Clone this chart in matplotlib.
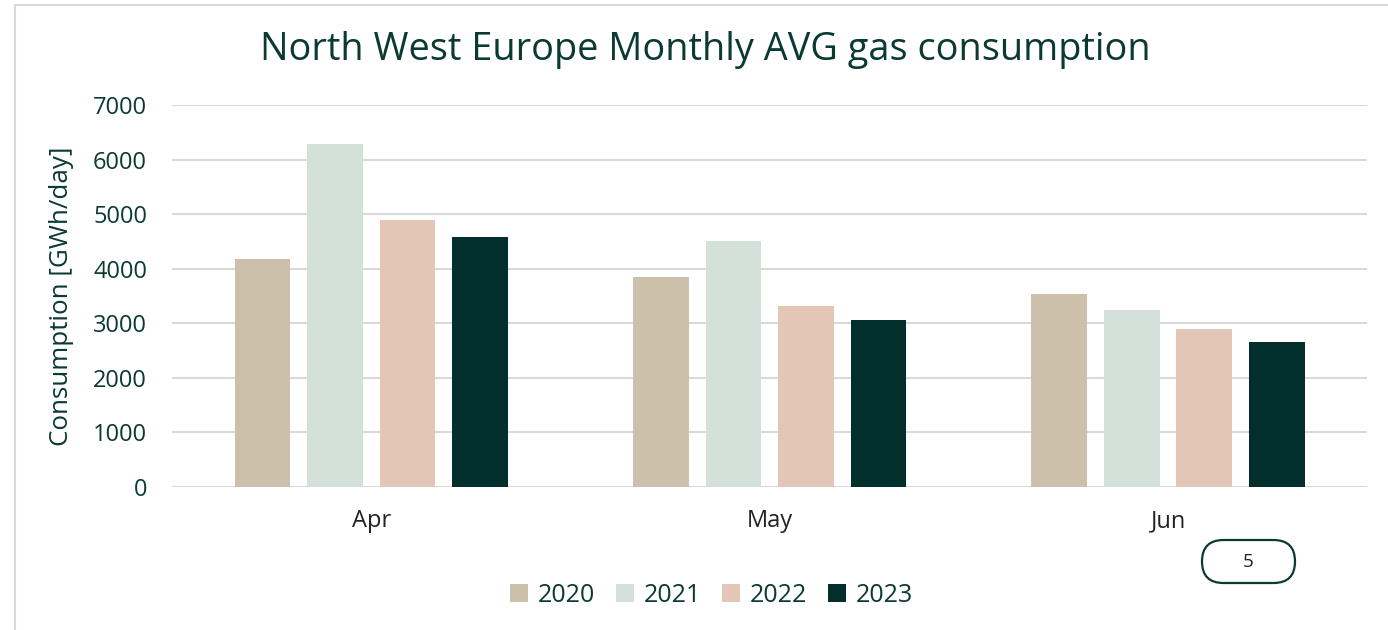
import matplotlib.pyplot as plt
import numpy as np
from matplotlib.patches import FancyBboxPatch

months = ["Apr", "May", "Jun"]
years = ["2020", "2021", "2022", "2023"]
values = {
    "2020": [4180, 3850, 3540],
    "2021": [6290, 4510, 3240],
    "2022": [4890, 3320, 2890],
    "2023": [4580, 3060, 2660],
}
colors = ["#CCC0AA", "#D4E1DA", "#E4C6B6", "#022E2C"]
text_color = "#0B3A33"

plt.rcParams['font.family'] = ['Open Sans', 'DejaVu Sans']

fig = plt.figure(figsize=(13.88, 6.30), dpi=100)
ax = fig.add_axes([0.124, 0.227, 0.861, 0.606])

x = np.arange(len(months))
width = 0.14
step = 0.182
for i, yr in enumerate(years):
    ax.bar(x + (i - 1.5) * step, values[yr], width, color=colors[i], label=yr,
           zorder=3)

ax.set_xlim(-0.5, 2.5)
ax.set_ylim(0, 7000)
ax.set_yticks(range(0, 7001, 1000))
ax.set_xticks(x)
ax.set_xticklabels(months)
ax.yaxis.grid(True, color="#D9D9D9", linewidth=1.5, zorder=0)
for s in ax.spines.values():
    s.set_visible(False)
ax.tick_params(length=0, labelsize=17, colors=text_color)
ax.tick_params(axis='y', pad=18)
ax.tick_params(axis='x', pad=16)
for lbl in ax.get_xticklabels():
    lbl.set_color("#222222")
ax.set_ylabel("Consumption [GWh/day]", fontsize=18.7, color=text_color, labelpad=14)

fig.text(0.508, 0.921, "North West Europe Monthly AVG gas consumption",
         ha="center", va="center", fontsize=27.3, color=text_color)

ax.legend(loc="center", bbox_to_anchor=(0.4515, -0.283), ncol=4, frameon=False,
          fontsize=18, labelcolor=text_color, handlelength=0.7, handleheight=0.7,
          columnspacing=0.85, handletextpad=0.4)

# outer frame (top and left edges)
fig.add_artist(plt.Line2D([15 / 1388, 1], [1 - 5 / 630, 1 - 5 / 630],
                          color="#D9D9D9", linewidth=1.5))
fig.add_artist(plt.Line2D([15 / 1388, 15 / 1388], [1 - 5 / 630, 0],
                          color="#D9D9D9", linewidth=1.5))

# page number badge (pixel coordinates)
badge = FancyBboxPatch((1202, 630 - 583), 93, 43,
                       boxstyle="round,pad=0,rounding_size=21.5",
                       transform=None, facecolor="white",
                       edgecolor="#0B3A33", linewidth=1.6)
fig.add_artist(badge)
fig.text(1248 / 1388, 1 - 562 / 630, "5", ha="center", va="center",
         fontsize=13.5, color="#222222")

fig.savefig("out.png", dpi=100)
